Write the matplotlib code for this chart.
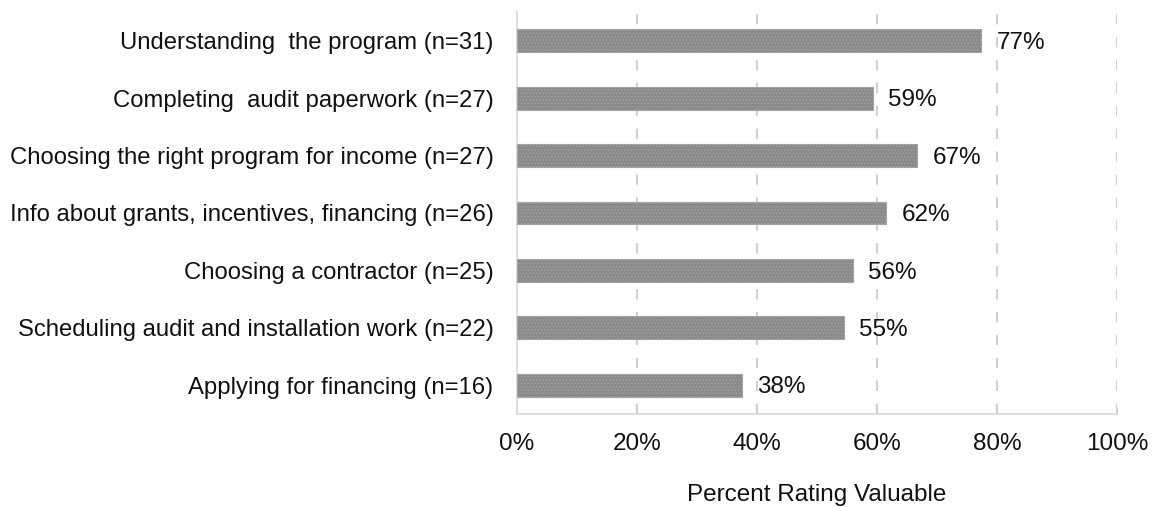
import matplotlib
matplotlib.use("Agg")
import matplotlib.pyplot as plt

plt.rcParams['font.family'] = ['Liberation Sans', 'DejaVu Sans']
plt.rcParams['hatch.linewidth'] = 0.6

categories = [
    "Understanding  the program (n=31)",
    "Completing  audit paperwork (n=27)",
    "Choosing the right program for income (n=27)",
    "Info about grants, incentives, financing (n=26)",
    "Choosing a contractor (n=25)",
    "Scheduling audit and installation work (n=22)",
    "Applying for financing (n=16)",
]
values = [77.4, 59.3, 66.7, 61.5, 56.0, 54.5, 37.5]
value_labels = ["77%", "59%", "67%", "62%", "56%", "55%", "38%"]
xticks = [0, 20, 40, 60, 80, 100]
xtick_labels = ["0%", "20%", "40%", "60%", "80%", "100%"]
xlabel = "Percent Rating Valuable"

FS = 17.5
W, H = 1152, 508
fig = plt.figure(figsize=(W / 100, H / 100), dpi=100)
ax = fig.add_axes([517 / W, 1 - 414 / H, 600 / W, 402 / H])

ypos = list(range(len(categories)))
ax.barh(ypos, values, height=0.4, color='#8a8a8a', edgecolor='#a3a3a3',
        hatch='.....', linewidth=0.8, zorder=3)
ax.set_ylim(len(categories) - 0.5, -0.5)
ax.set_xlim(0, 100)

ax.set_yticks(ypos)
ax.set_yticklabels(categories, fontsize=17.2, color='#111111')
ax.tick_params(axis='y', length=0, pad=17)
ax.set_xticks(xticks)
ax.set_xticklabels(xtick_labels, fontsize=FS, color='#111111')
ax.tick_params(axis='x', direction='in', length=5, color='#d0d0d0', pad=14)

for x in xticks[1:]:
    ax.axvline(x, color='#d0d0d0', linestyle=(0, (5, 6)), linewidth=1.5, zorder=1)

for s in ['top', 'right']:
    ax.spines[s].set_visible(False)
ax.spines['left'].set_color('#d9d9d9')
ax.spines['bottom'].set_color('#d9d9d9')
ax.spines['left'].set_linewidth(1.2)
ax.spines['bottom'].set_linewidth(1.2)

for y, v, lab in zip(ypos, values, value_labels):
    ax.annotate(lab, (v, y), xytext=(11, -1.5), textcoords='offset points',
                va='center', ha='left', fontsize=FS, color='#111111')

fig.text(817 / W, 1 - 495 / H, xlabel, ha='center', va='center',
         fontsize=FS, color='#111111')

fig.savefig('out.png', dpi=100, facecolor='white')
